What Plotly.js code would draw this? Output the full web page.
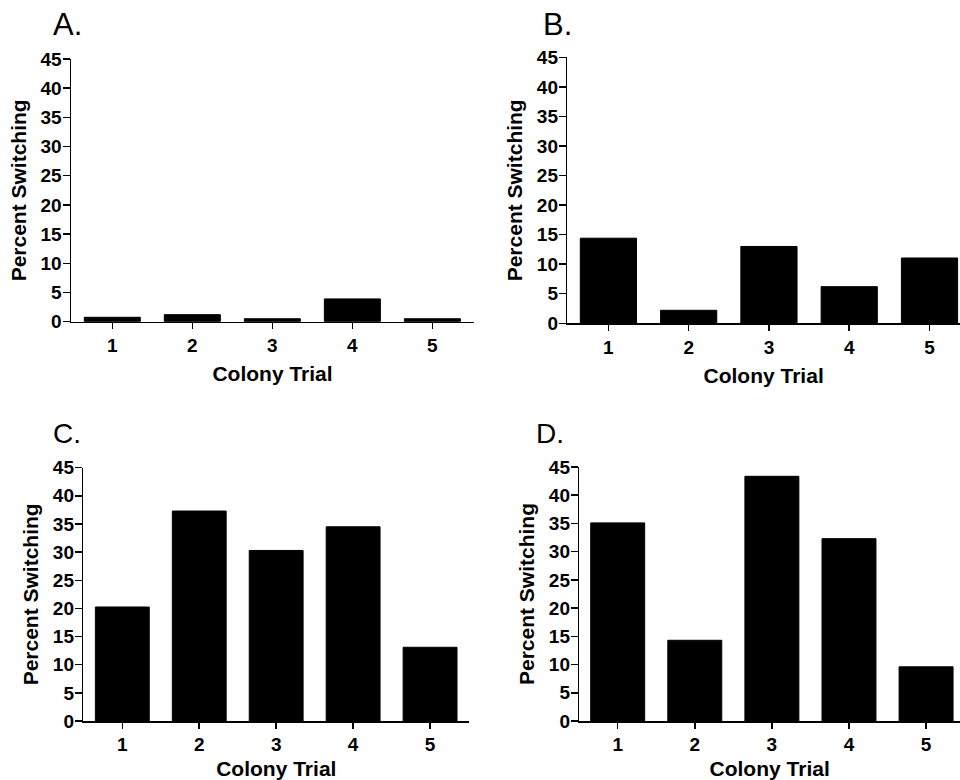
<!DOCTYPE html>
<html>
<head>
<meta charset="utf-8">
<script src="https://cdn.plot.ly/plotly-3.0.1.min.js"></script>
<style>html,body{margin:0;padding:0;background:#fff}#chart{width:960px;height:780px}</style>
</head>
<body>
<div id="chart"></div>
<script>
const trials = ["1", "2", "3", "4", "5"];
const trialPos = [1, 2, 3, 4, 5];
const valuesA = [0.75, 1.2, 0.5, 3.9, 0.5];
const valuesB = [14.4, 2.2, 13.0, 6.2, 11.05];
const valuesC = [20.25, 37.3, 30.3, 34.5, 13.1];
const valuesD = [35.1, 14.3, 43.35, 32.3, 9.6];
const panelLabels = ["A.", "B.", "C.", "D."];
const yTicks = [0, 5, 10, 15, 20, 25, 30, 35, 40, 45];
const xTitle = "Colony Trial";
const yTitle = "Percent Switching";

const FONT = "Liberation Sans, Arial, Helvetica, sans-serif";
const series = [valuesA, valuesB, valuesC, valuesD];
const axisIds = ["", "2", "3", "4"];

const xDomains = [[0.07396, 0.49375], [0.5909, 1.0], [0.08677, 0.48885], [0.60344, 1.0]];
const yDomains = [[0.5876, 0.92436], [0.5855, 0.92654], [0.07564, 0.40038], [0.07564, 0.40128]];
const xRanges = [[0.484, 5.52], [0.4875, 5.38], [0.493, 5.51], [0.502, 5.44]];

const data = series.map((vals, i) => ({
  type: "bar",
  x: trialPos,
  y: vals,
  width: 0.7,
  marker: {color: "#000", line: {color: "#000", width: 1}},
  xaxis: "x" + axisIds[i],
  yaxis: "y" + axisIds[i],
  hoverinfo: "x+y",
  showlegend: false
}));

const layout = {
  width: 960,
  height: 780,
  margin: {l: 0, r: 0, t: 0, b: 0},
  paper_bgcolor: "#fff",
  plot_bgcolor: "#fff",
  font: {family: FONT, color: "#000"},
  showlegend: false,
  bargap: 0.3,
  annotations: []
};

const labelPos = [[51, 25, 31], [541, 25, 31], [51, 433, 28], [534, 433, 28]];

for (let i = 0; i < 4; i++) {
  const id = axisIds[i];
  layout["xaxis" + id] = {
    domain: xDomains[i],
    range: xRanges[i],
    anchor: "y" + id,
    tickmode: "array",
    tickvals: trialPos,
    ticktext: trials,
    ticks: "outside",
    ticklen: 6,
    tickwidth: 1.5,
    tickcolor: "#000",
    showline: true,
    linecolor: "#000",
    linewidth: 1.5,
    showgrid: false,
    zeroline: false,
    automargin: false,
    tickfont: {family: FONT, size: 19, weight: "bold", color: "#000"},
    title: {text: xTitle, standoff: 11, font: {family: FONT, size: 21, weight: "bold", color: "#000"}},
    fixedrange: true
  };
  layout["yaxis" + id] = {
    domain: yDomains[i],
    range: [0, 45],
    anchor: "x" + id,
    tickmode: "array",
    tickvals: yTicks,
    ticks: "outside",
    ticklen: 7,
    tickwidth: 1.5,
    tickcolor: "#000",
    showline: true,
    linecolor: "#000",
    linewidth: 1.5,
    showgrid: false,
    zeroline: false,
    automargin: false,
    ticklabelstandoff: -3,
    tickfont: {family: FONT, size: 19, weight: "bold", color: "#000"},
    title: {text: yTitle, standoff: 8, font: {family: FONT, size: 21, weight: "bold", color: "#000"}},
    fixedrange: true
  };
  const lp = labelPos[i];
  layout.annotations.push({
    text: panelLabels[i],
    xref: "paper", yref: "paper",
    x: lp[0] / 960, y: 1 - lp[1] / 780,
    xanchor: "left", yanchor: "middle",
    showarrow: false,
    font: {family: FONT, size: lp[2], color: "#000"}
  });
}

Plotly.newPlot("chart", data, layout, {displayModeBar: false, staticPlot: true});
</script>
</body>
</html>
